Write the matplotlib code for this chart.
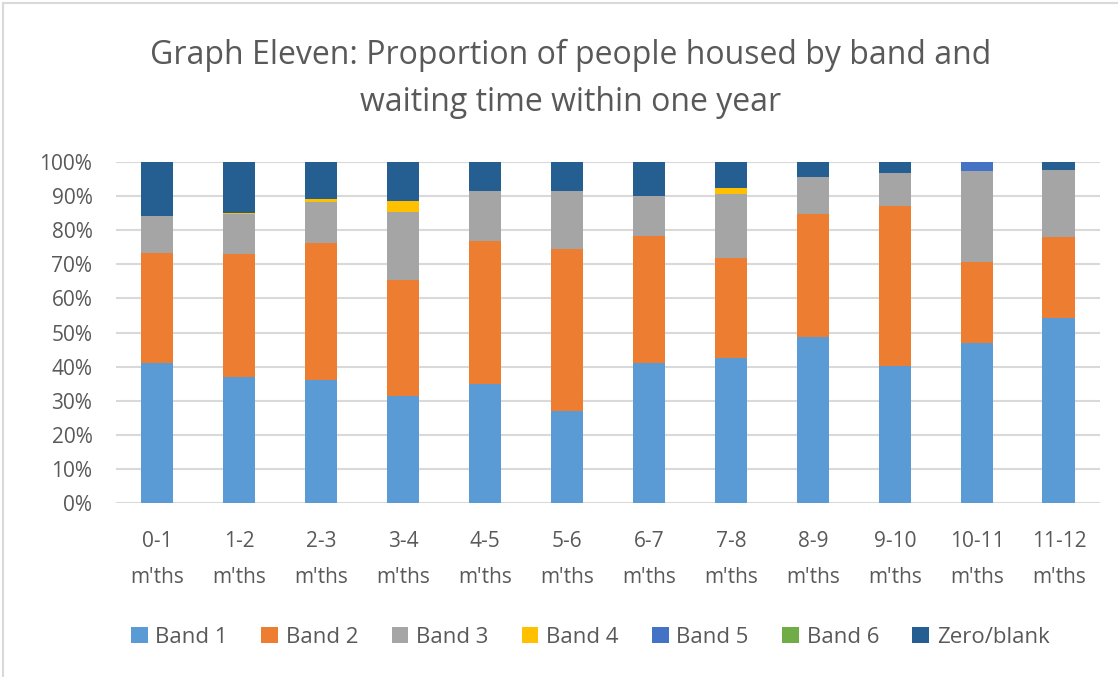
import matplotlib.pyplot as plt
import numpy as np
from matplotlib.patches import Rectangle

plt.rcParams["font.family"] = ["Open Sans", "DejaVu Sans"]

categories = ["0-1\nm'ths", "1-2\nm'ths", "2-3\nm'ths", "3-4\nm'ths", "4-5\nm'ths", "5-6\nm'ths",
              "6-7\nm'ths", "7-8\nm'ths", "8-9\nm'ths", "9-10\nm'ths", "10-11\nm'ths", "11-12\nm'ths"]

# shares (%)
band1 = [41.1, 37.0, 36.1, 31.3, 34.8, 26.9, 41.1, 42.5, 48.7, 40.2, 46.9, 54.3]
band2 = [32.2, 36.0, 40.1, 34.1, 42.0, 47.5, 37.2, 29.4, 36.1, 47.0, 23.9, 23.7]
band3 = [10.9, 11.7, 12.1, 20.0, 14.6, 17.0, 11.7, 18.8, 10.7, 9.7, 26.6, 19.7]
band4 = [0.0, 0.4, 0.9, 3.2, 0.0, 0.0, 0.0, 1.8, 0.0, 0.0, 0.0, 0.0]
band5 = [0.0, 0.0, 0.0, 0.0, 0.0, 0.0, 0.0, 0.0, 0.0, 0.0, 2.6, 0.0]
band6 = [0.0] * 12
zero_blank = [15.8, 14.9, 10.8, 11.4, 8.6, 8.6, 10.0, 7.5, 4.5, 3.1, 0.0, 2.3]

series = [
    ("Band 1", band1, "#5B9BD5"),
    ("Band 2", band2, "#ED7D31"),
    ("Band 3", band3, "#A5A5A5"),
    ("Band 4", band4, "#FFC000"),
    ("Band 5", band5, "#4472C4"),
    ("Band 6", band6, "#70AD47"),
    ("Zero/blank", zero_blank, "#255E91"),
]

TXT = "#595959"

fig = plt.figure(figsize=(11.18, 6.77), dpi=100)
ax = fig.add_axes([0.1038, 0.257, 0.880, 0.5037])

# chart border
fig.patches.append(Rectangle((3 / 1118, -0.01), 1.1, 1 - 3 / 677 + 0.01, transform=fig.transFigure,
                             fill=False, edgecolor="#d9d9d9", linewidth=1.5))

x = np.arange(len(categories))
bottom = np.zeros(len(categories))
for name, vals, col in series:
    vals = np.array(vals)
    ax.bar(x, vals, 0.4, bottom=bottom, color=col, label=name, zorder=3)
    bottom += vals

ax.set_xlim(-0.5, len(categories) - 0.5)
ax.set_ylim(0, 100)
ax.set_yticks(np.arange(0, 101, 10))
ax.set_yticklabels([f"{v}%" for v in range(0, 101, 10)])
ax.set_xticks(x)
ax.set_xticklabels(categories, linespacing=1.95)
ax.grid(axis="y", color="#d9d9d9", linewidth=1.5, zorder=0)
for s in ax.spines.values():
    s.set_visible(False)
ax.tick_params(length=0, labelsize=15, colors=TXT)
ax.tick_params(axis="y", pad=17)
ax.tick_params(axis="x", pad=20)

fig.text(0.51, 0.883, "Graph Eleven: Proportion of people housed by band and\nwaiting time within one year",
         ha="center", va="center", fontsize=23, color=TXT, linespacing=1.55)

ax.legend(loc="center", bbox_to_anchor=(0.482, -0.393), ncol=7, frameon=False, fontsize=16,
          labelcolor=TXT, handlelength=0.75, handleheight=0.75, handletextpad=0.35, columnspacing=1.5)

fig.savefig("out.png", dpi=100)
